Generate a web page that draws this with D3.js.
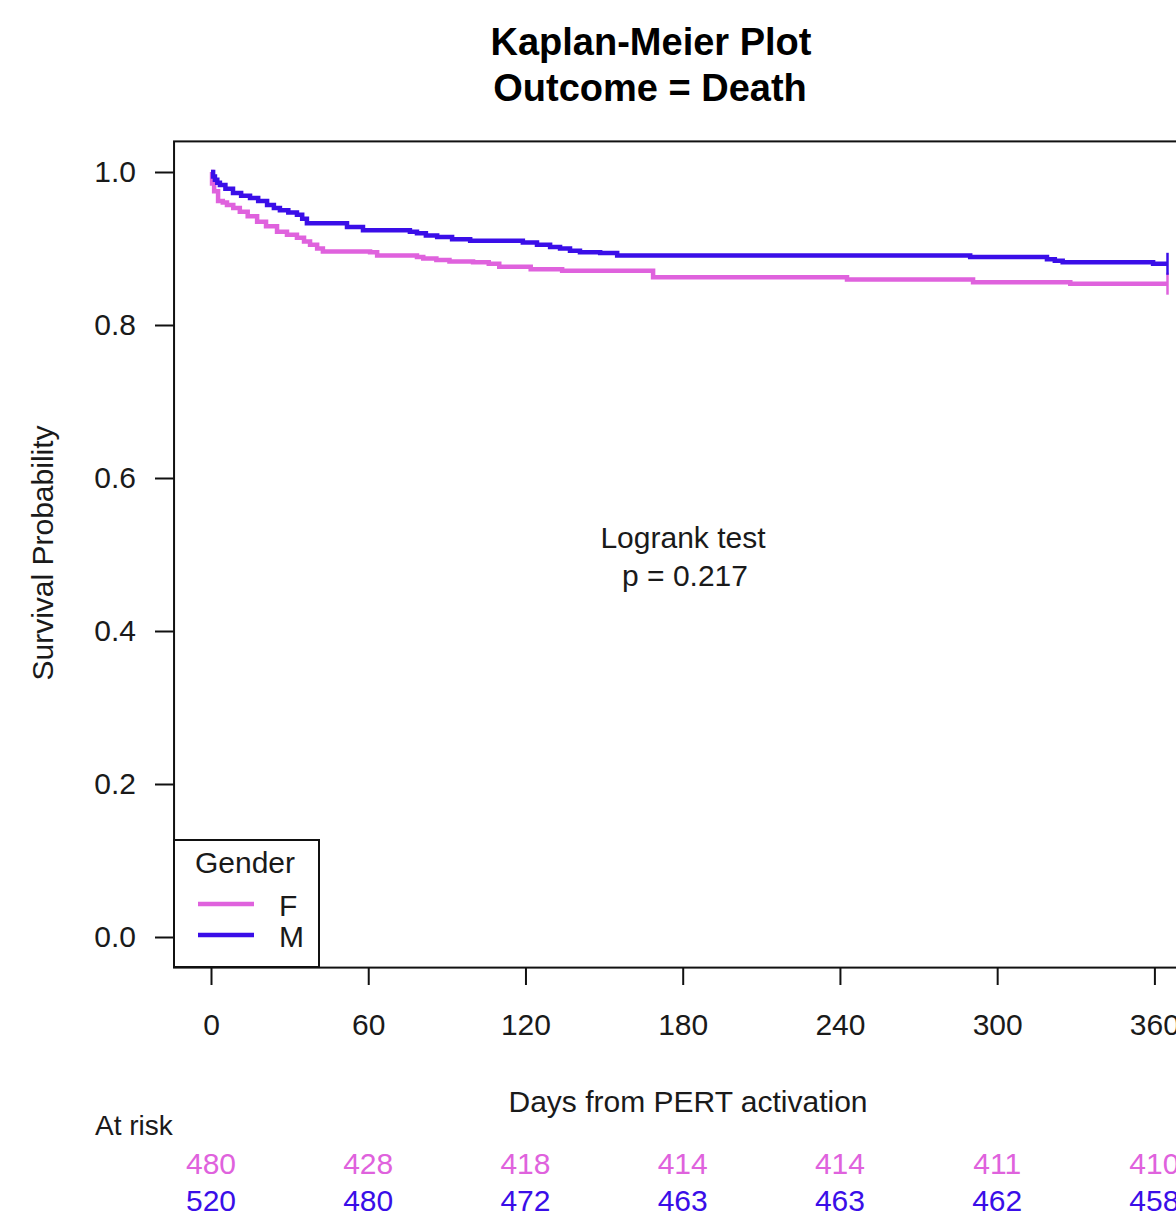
<!DOCTYPE html>
<html>
<head>
<meta charset="utf-8">
<script src="https://cdn.jsdelivr.net/npm/d3@7"></script>
<style>
  body { margin: 0; background: #fff; }
  text { font-family: "Liberation Sans", Arial, sans-serif; }
</style>
</head>
<body>
<div id="chart"></div>
<script>
// width and height
var chart_width = 1176;
var chart_height = 1217;

// data (day, survival)
var days_f = [0, 0.4, 1.2, 2.7, 4.5, 6.1, 8.5, 11, 14, 17.6, 21, 25.2, 29, 32.8, 35.5, 37.8, 40.5, 42.7, 60.7, 63.4, 78.6, 81, 86, 91, 100, 106, 110, 122, 134, 168.7, 242.7, 290.8, 327.9, 365];
var surv_f = [1.0, 0.985, 0.975, 0.962, 0.960, 0.957, 0.953, 0.948, 0.942, 0.935, 0.929, 0.922, 0.918, 0.914, 0.909, 0.905, 0.900, 0.896, 0.895, 0.891, 0.889, 0.887, 0.885, 0.883, 0.882, 0.880, 0.876, 0.873, 0.871, 0.8625, 0.8595, 0.856, 0.854, 0.854];

var days_m = [0, 0.8, 1.5, 2.4, 3.4, 5.5, 8.4, 11.5, 14.9, 18, 21.4, 24, 26.3, 29.5, 32.8, 34.8, 36.6, 51.9, 58, 75.9, 78.6, 82, 86.3, 92, 98.9, 119, 124.4, 129.4, 133.2, 137, 140.8, 148.5, 155, 289.7, 319, 322, 325, 359.5, 365];
var surv_m = [1.0, 0.994, 0.990, 0.986, 0.983, 0.978, 0.9725, 0.969, 0.966, 0.962, 0.957, 0.953, 0.950, 0.947, 0.944, 0.939, 0.933, 0.928, 0.924, 0.922, 0.920, 0.917, 0.915, 0.912, 0.910, 0.908, 0.905, 0.902, 0.900, 0.897, 0.895, 0.894, 0.891, 0.889, 0.886, 0.884, 0.882, 0.880, 0.880];

var groups = ['F', 'M'];
var group_colors = ['#df62dd', '#3a0ee8'];

var x_ticks = [0, 60, 120, 180, 240, 300, 360];
var y_ticks = [0, 0.2, 0.4, 0.6, 0.8, 1.0];

var risk_f = [480, 428, 418, 414, 414, 411, 410];
var risk_m = [520, 480, 472, 463, 463, 462, 458];

// scales
var x = d3.scaleLinear().domain([0, 360]).range([211, 1154.4]);
var y = d3.scaleLinear().domain([0, 1]).range([937, 172]);

var svg = d3.select('#chart')
            .append('svg')
            .attr('width', chart_width)
            .attr('height', chart_height);

// title
svg.append('text')
   .attr('x', 651).attr('y', 55)
   .attr('text-anchor', 'middle')
   .style('font-size', '38px').style('font-weight', 'bold')
   .text('Kaplan-Meier Plot');
svg.append('text')
   .attr('x', 650).attr('y', 101)
   .attr('text-anchor', 'middle')
   .style('font-size', '38px').style('font-weight', 'bold')
   .text('Outcome = Death');

// axes
var x_axis = d3.axisBottom(x)
               .tickValues(x_ticks)
               .tickSize(18)
               .tickPadding(29)
               .tickFormat(d3.format('d'));

var y_axis = d3.axisLeft(y)
               .tickValues(y_ticks)
               .tickSize(19)
               .tickPadding(19)
               .tickFormat(d3.format('.1f'));

var gx = svg.append('g')
            .attr('transform', 'translate(0,967)')
            .call(x_axis);
var gy = svg.append('g')
            .attr('transform', 'translate(174,0)')
            .call(y_axis);

[gx, gy].forEach(function(g){
    g.select('.domain').remove();
    g.selectAll('line').attr('stroke', '#111').attr('stroke-width', 2);
    g.selectAll('text')
     .style('font-size', '30px')
     .style('font-family', '"Liberation Sans", Arial, sans-serif')
     .attr('fill', '#1a1a1a');
});

// box
svg.append('rect')
   .attr('x', x(-14.1))
   .attr('y', y(1.04))
   .attr('width', x(379.5) - x(-14.1))
   .attr('height', y(-0.04) - y(1.04))
   .attr('fill', 'none')
   .attr('stroke', '#111')
   .attr('stroke-width', 2);

// axis titles
svg.append('text')
   .attr('transform', 'translate(53,553) rotate(-90)')
   .attr('text-anchor', 'middle')
   .style('font-size', '30px')
   .attr('fill', '#1a1a1a')
   .text('Survival Probability');

svg.append('text')
   .attr('x', 688).attr('y', 1112)
   .attr('text-anchor', 'middle')
   .style('font-size', '30px')
   .attr('fill', '#1a1a1a')
   .text('Days from PERT activation');

// curves
var line = d3.line()
             .x(function(d){ return x(d[0]); })
             .y(function(d){ return y(d[1]); })
             .curve(d3.curveStepAfter);

var series = [d3.zip(days_f, surv_f), d3.zip(days_m, surv_m)];

series.forEach(function(s, i){
    svg.append('path')
       .datum(s)
       .attr('d', line)
       .attr('fill', 'none')
       .attr('stroke', group_colors[i])
       .attr('stroke-width', 4.5);

    // censor mark at the end
    var last = s[s.length - 1];
    svg.append('line')
       .attr('x1', x(last[0])).attr('x2', x(last[0]))
       .attr('y1', y(last[1]) - 11).attr('y2', y(last[1]) + 11)
       .attr('stroke', group_colors[i])
       .attr('stroke-width', 2.5);
});

// logrank text
svg.append('text')
   .attr('x', 683).attr('y', 548)
   .attr('text-anchor', 'middle')
   .style('font-size', '30px')
   .attr('fill', '#1a1a1a')
   .text('Logrank test');
svg.append('text')
   .attr('x', 685).attr('y', 586)
   .attr('text-anchor', 'middle')
   .style('font-size', '30px')
   .attr('fill', '#1a1a1a')
   .text('p = 0.217');

// legend
var legend = svg.append('g');
legend.append('rect')
      .attr('x', 174).attr('y', 840)
      .attr('width', 145).attr('height', 127)
      .attr('fill', '#fff')
      .attr('stroke', '#111')
      .attr('stroke-width', 2);
legend.append('text')
      .attr('x', 245).attr('y', 873)
      .attr('text-anchor', 'middle')
      .style('font-size', '30px')
      .attr('fill', '#1a1a1a')
      .text('Gender');
groups.forEach(function(g, i){
    var ly = 904 + i * 31;
    legend.append('line')
          .attr('x1', 198).attr('x2', 254)
          .attr('y1', ly).attr('y2', ly)
          .attr('stroke', group_colors[i])
          .attr('stroke-width', 4.5);
    legend.append('text')
          .attr('x', 279).attr('y', ly + 12)
          .style('font-size', '30px')
          .attr('fill', '#1a1a1a')
          .text(g);
});

// at risk table
svg.append('text')
   .attr('x', 95).attr('y', 1135)
   .style('font-size', '28px')
   .attr('fill', '#1a1a1a')
   .text('At risk');

[risk_f, risk_m].forEach(function(r, i){
    svg.selectAll('.risk' + i)
       .data(r)
       .enter()
       .append('text')
       .attr('class', 'risk' + i)
       .attr('x', function(d, j){ return x(x_ticks[j]); })
       .attr('y', 1174 + i * 37)
       .attr('text-anchor', 'middle')
       .style('font-size', '30px')
       .attr('fill', group_colors[i])
       .text(function(d){ return d; });
});
</script>
</body>
</html>
